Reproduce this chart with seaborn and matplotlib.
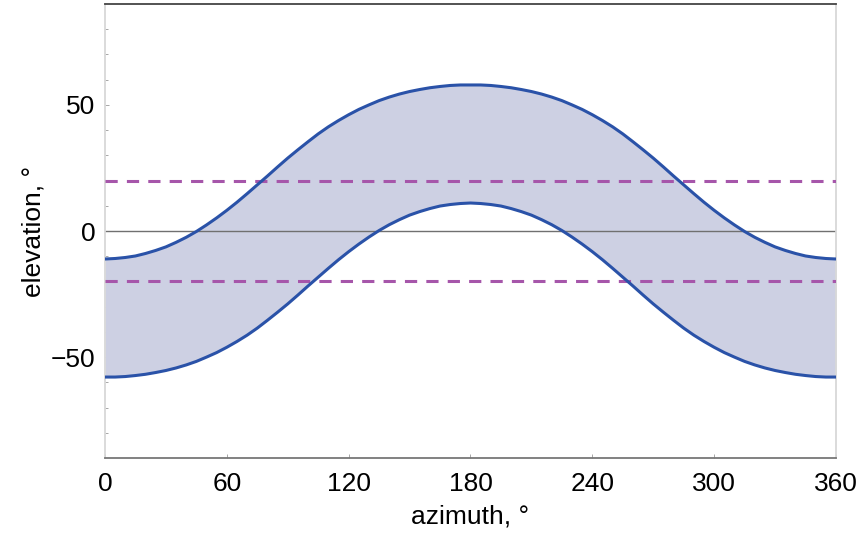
import numpy as np
import pandas as pd
import matplotlib
matplotlib.use("Agg")
import matplotlib.pyplot as plt
import seaborn as sns

# data
azimuth = list(range(0, 361, 5))
upper = [-11.1, -10.9, -10.5, -9.9, -8.9, -7.7, -6.3, -4.5, -2.5, -0.2, 2.4, 5.2, 8.2, 11.4, 14.8, 18.3,
         21.8, 25.4, 28.9, 32.2, 35.4, 38.5, 41.3, 43.8, 46.1, 48.2, 50.0, 51.7, 53.1, 54.3, 55.3, 56.1,
         56.8, 57.3, 57.7, 57.9, 57.9,
         57.9, 57.7, 57.3, 56.8, 56.1, 55.3, 54.3, 53.1, 51.7, 50.0, 48.2, 46.1, 43.8, 41.3, 38.5, 35.4,
         32.2, 28.9, 25.4, 21.8, 18.3, 14.8, 11.4, 8.2, 5.2, 2.4, -0.2, -2.5, -4.5, -6.3, -7.7, -8.9,
         -9.9, -10.5, -10.9, -11.1]
lower = [-57.9, -57.9, -57.7, -57.3, -56.8, -56.1, -55.3, -54.3, -53.1, -51.7, -50.0, -48.2, -46.1, -43.8,
         -41.3, -38.5, -35.4, -32.2, -28.9, -25.4, -21.8, -18.3, -14.8, -11.4, -8.2, -5.2, -2.4, 0.2, 2.5,
         4.5, 6.3, 7.7, 8.9, 9.9, 10.5, 10.9, 11.1,
         10.9, 10.5, 9.9, 8.9, 7.7, 6.3, 4.5, 2.5, 0.2, -2.4, -5.2, -8.2, -11.4, -14.8, -18.3, -21.8,
         -25.4, -28.9, -32.2, -35.4, -38.5, -41.3, -43.8, -46.1, -48.2, -50.0, -51.7, -53.1, -54.3, -55.3,
         -56.1, -56.8, -57.3, -57.7, -57.9, -57.9]
limit_lines = [20, -20]
x_ticks = [0, 60, 120, 180, 240, 300, 360]
y_ticks = [-50, 0, 50]
y_tick_labels = ["\u221250", "0", "50"]

sns.set_theme(style="white")
plt.rcParams['font.family'] = ['Liberation Sans', 'DejaVu Sans']
plt.rcParams['text.color'] = 'black'
plt.rcParams['axes.labelcolor'] = 'black'
plt.rcParams['xtick.color'] = 'black'
plt.rcParams['ytick.color'] = 'black'

df = pd.DataFrame({"azimuth": azimuth, "upper": upper, "lower": lower})

fig = plt.figure(figsize=(8.64, 5.41), dpi=100)
ax = fig.add_axes([0.1215, 0.1534, 0.8461, 0.8392])

ax.fill_between(df["azimuth"], df["lower"], df["upper"], color="#cdd0e3", lw=0, zorder=1)
ax.axhline(0, color="#707070", lw=1.0, zorder=2)
for v in limit_lines:
    ax.axhline(v, color="#a656aa", lw=2.2, ls=(0, (4, 3)), zorder=3)
sns.lineplot(data=df, x="azimuth", y="upper", ax=ax, color="#2a52a8", lw=2.2, zorder=4, sort=False)
sns.lineplot(data=df, x="azimuth", y="lower", ax=ax, color="#2a52a8", lw=2.2, zorder=4, sort=False)

ax.set_xlim(0, 360)
ax.set_ylim(-90, 90)
ax.set_xticks(x_ticks)
ax.set_yticks(y_ticks)
ax.set_yticks(np.arange(-80, 90, 10), minor=True)
ax.set_yticklabels(y_tick_labels)
ax.tick_params(axis="both", which="both", direction="in", length=3, width=0.6,
               color="#999999", labelsize=19, labelcolor="black", bottom=True, left=True)
ax.tick_params(axis="x", which="major", pad=10)
ax.tick_params(axis="y", which="major", pad=7)
ax.tick_params(axis="y", which="minor", length=2)
ax.set_xlabel("azimuth, \u00b0", fontsize=19, labelpad=6, color="black")
ax.set_ylabel("elevation, \u00b0", fontsize=19, labelpad=4, color="black")

ax.spines["top"].set_color("#444444")
ax.spines["top"].set_linewidth(1.3)
ax.spines["bottom"].set_color("#777777")
ax.spines["bottom"].set_linewidth(1.3)
ax.spines["left"].set_color("#d8d8d8")
ax.spines["left"].set_linewidth(1.3)
ax.spines["right"].set_color("#d8d8d8")
ax.spines["right"].set_linewidth(1.3)
for s in ax.spines.values():
    s.set_visible(True)

fig.savefig("out.png", dpi=100, facecolor="white")
